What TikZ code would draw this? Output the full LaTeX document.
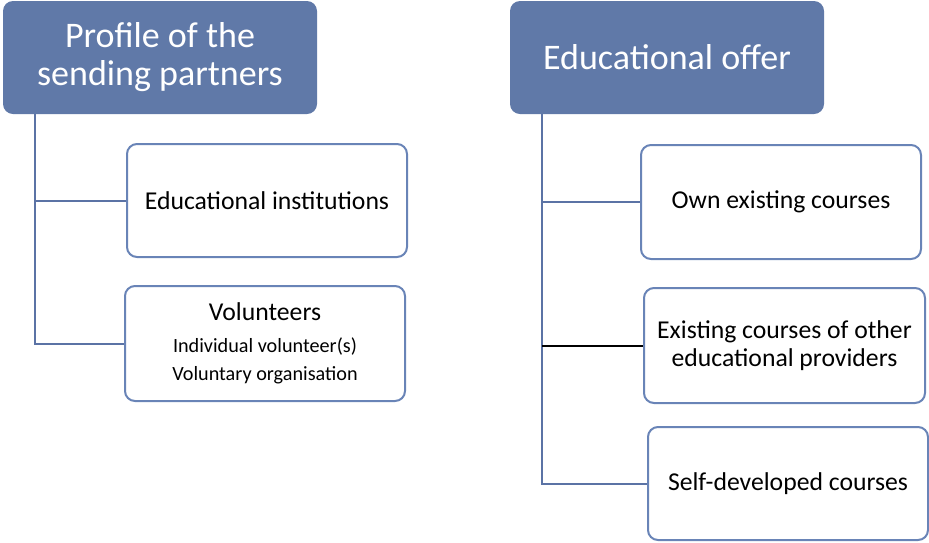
\documentclass[tikz,border=0pt]{standalone}
\usepackage{fontspec}
\setmainfont{Carlito}
\definecolor{hdr}{RGB}{96,121,168}
\definecolor{edge}{RGB}{91,115,165}
\definecolor{bord}{RGB}{105,132,183}
\begin{document}
\begin{tikzpicture}[x=1pt,y=-1pt,
  hdrbox/.style={draw=none,fill=hdr,rounded corners=10pt,inner sep=0pt,text=white,align=center,font=\fontsize{36}{38}\selectfont},
  kidbox/.style={draw=bord,line width=2pt,fill=white,rounded corners=10pt,inner sep=0pt,align=center,font=\fontsize{25.7}{28}\selectfont},
  conn/.style={draw=edge,line width=2pt}]
\useasboundingbox (0,0) rectangle (929,542);
% left column
\node[hdrbox,minimum width=314,minimum height=113] (h1) at (160,57.5) {Profile of the\\sending partners};
\node[kidbox,minimum width=280,minimum height=113] (k1) at (267,200.5) {Educational institutions};
\node[kidbox,minimum width=280,minimum height=115] (k2) at (265,343.5) {Volunteers\\[4pt]{\fontsize{20.2}{30}\selectfont Individual volunteer(s)}\\{\fontsize{20.2}{30}\selectfont Voluntary organisation}};
\coordinate (t1) at (35,114);
\draw[conn] (t1) |- (k2.west);
\draw[conn] (t1 |- k1.west) -- (k1.west);
% right column
\node[hdrbox,minimum width=314,minimum height=113] (h2) at (667,57.5) {Educational offer};
\node[kidbox,minimum width=280,minimum height=114] (r1) at (781,202) {Own existing courses};
\node[kidbox,minimum width=281,minimum height=115] (r2) at (784.5,345.5) {Existing courses of other\\educational providers};
\node[kidbox,minimum width=280,minimum height=113] (r3) at (788,483.5) {Self-developed courses};
\coordinate (t2) at (542,114);
\draw[conn] (t2) |- (r3.west);
\draw[conn] (t2 |- r1.west) -- (r1.west);
\draw[line width=2pt,black] (t2 |- r2.west) -- (r2.west);
\end{tikzpicture}
\end{document}
